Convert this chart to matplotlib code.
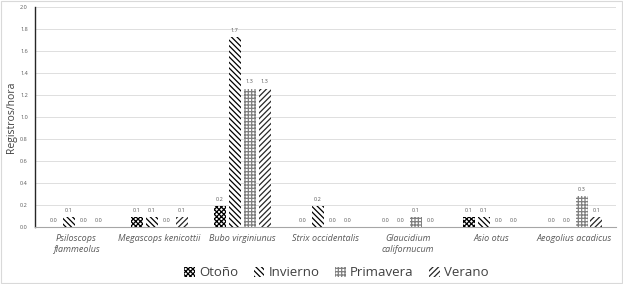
import numpy as np
import matplotlib
matplotlib.use('Agg')
import matplotlib.pyplot as plt

especies = ['Psiloscops\nflammeolus', 'Megascops kenicottii', 'Bubo virginiunus',
            'Strix occidentalis', 'Glaucidium\ncalifornucum', 'Asio otus',
            'Aeogolius acadicus']
otono = [0.0, 0.09, 0.19, 0.0, 0.0, 0.09, 0.0]
invierno = [0.09, 0.09, 1.73, 0.19, 0.0, 0.09, 0.0]
primavera = [0.0, 0.0, 1.26, 0.0, 0.09, 0.0, 0.28]
verano = [0.0, 0.09, 1.26, 0.0, 0.0, 0.0, 0.09]
estaciones = ['Otoño', 'Invierno', 'Primavera', 'Verano']
tramas = ['xxxxxxx', '\\\\\\\\\\\\', '+++++', '//////']
colores_trama = ['black', 'black', '#7f7f7f', '#262626']

plt.rcParams['font.family'] = ['Open Sans', 'DejaVu Sans']
plt.rcParams['hatch.linewidth'] = 0.9

fig = plt.figure(figsize=(6.23, 2.84), dpi=100)
ax = fig.add_axes([0.056, 0.2, 0.932, 0.775])

x = np.arange(len(especies))
w = 0.145
paso = 0.18
series = [otono, invierno, primavera, verano]
for k, vals in enumerate(series):
    barras = ax.bar(x + (k - 1.5) * paso, vals, w, color='white', edgecolor=colores_trama[k],
                    hatch=tramas[k], linewidth=0, label=estaciones[k], zorder=3)
    ax.bar_label(barras, fmt='%.1f', padding=3, fontsize=4, color='#595959')

ax.set_xlim(-0.5, len(especies) - 0.5)
ax.set_ylim(0, 2.0)
ax.set_yticks(np.arange(0, 2.01, 0.2))
ax.set_yticklabels(['%.1f' % v for v in np.arange(0, 2.01, 0.2)], fontsize=4, color='#595959')
ax.set_xticks(x)
ax.set_xticklabels(especies, fontsize=6.5, style='italic', color='#595959')
ax.tick_params(axis='both', length=0, pad=5)
ax.tick_params(axis='y', pad=5)
ax.grid(axis='y', color='#d9d9d9', linewidth=0.6, zorder=0)
for s in ['top', 'right']:
    ax.spines[s].set_visible(False)
ax.spines['left'].set_color('#262626')
ax.spines['left'].set_linewidth(1.0)
ax.spines['bottom'].set_color('#a6a6a6')
ax.spines['bottom'].set_linewidth(0.8)
ax.set_ylabel('Registros/hora', fontsize=7.5, color='#404040')
ax.yaxis.set_label_coords(-0.03, 0.5)

fig.legend(loc='lower center', bbox_to_anchor=(0.54, -0.025), ncol=4, frameon=False,
           fontsize=9.5, handlelength=0.8, handleheight=0.8, handletextpad=0.3,
           columnspacing=1.2, labelcolor='#404040')

borde = plt.Rectangle((0.002, 0.002), 0.996, 0.996, transform=fig.transFigure,
                      fill=False, edgecolor='#d9d9d9', linewidth=0.8)
fig.patches.append(borde)

fig.savefig('out.png', dpi=100)
